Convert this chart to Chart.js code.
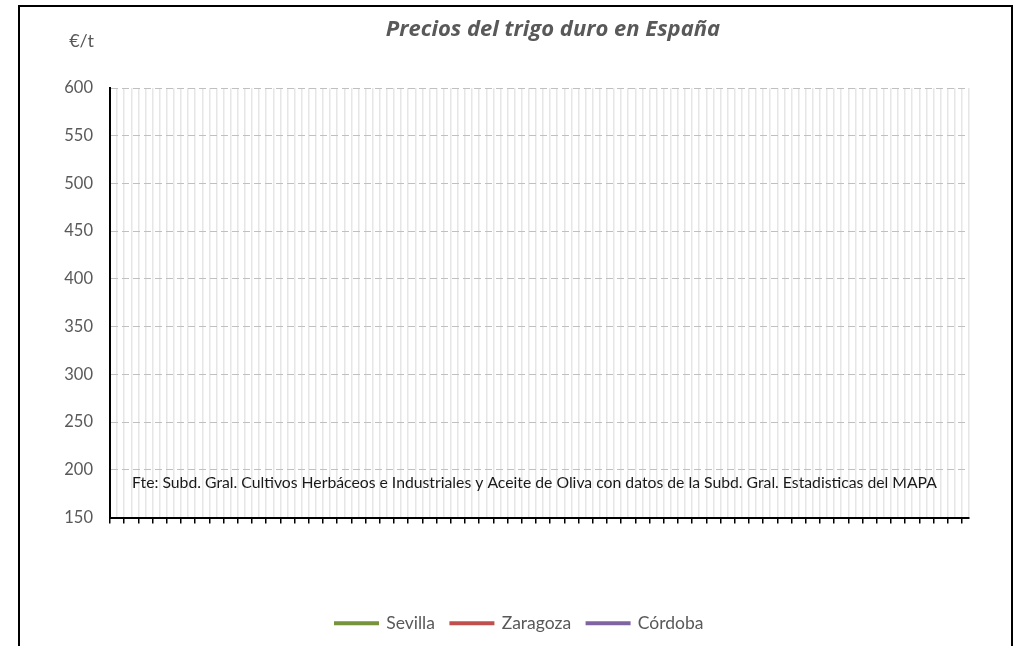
<!DOCTYPE html>
<html>
<head>
<meta charset="utf-8">
<script src="https://cdn.jsdelivr.net/npm/chart.js@4"></script>
<style>
  body { margin: 0; background: #fff; }
  #wrap { width: 1016px; height: 646px; }
</style>
</head>
<body>
<div id="wrap"><canvas id="myChart" width="1016" height="646"></canvas></div>
<script>
// weekly categories (labels are not shown on the axis)
let weeks = Array(122).fill("");
// no prices are plotted in the picture
let sevilla = [];
let zaragoza = [];
let cordoba = [];
let yMin = 150;
let yMax = 600;
let yStep = 50;

let grey = "#595959";
let fontName = "Lato, 'Open Sans', sans-serif";

// frame, unit, title and source note
let extras = {
    id: "extras",
    afterLayout(chart) {
        // the legend sits centred under the plot area, not under the whole canvas
        if (chart.legend) {
            chart.legend.left += 25;
            chart.legend.right += 25;
        }
    },
    beforeDraw(chart) {
        let c = chart.ctx;
        c.save();
        c.fillStyle = "#fff";
        c.fillRect(0, 0, chart.width, chart.height);
        c.restore();
    },
    afterDraw(chart) {
        let c = chart.ctx;
        c.save();
        c.strokeStyle = "#000";
        c.lineWidth = 2;
        c.strokeRect(19, 6, 993, 700);

        c.fillStyle = grey;
        c.font = "18px " + fontName;
        c.textAlign = "right";
        c.textBaseline = "middle";
        c.fillText("€/t", 94, 41);

        c.font = "italic bold 22px 'Open Sans', sans-serif";
        c.textAlign = "center";
        c.fillText("Precios del trigo duro en España", 553, 30);

        c.fillStyle = "#1a1a1a";
        c.font = "15.75px " + fontName;
        c.textAlign = "left";
        c.fillText("Fte: Subd. Gral. Cultivos Herbáceos e Industriales y Aceite de Oliva con datos de la Subd. Gral. Estadisticas del MAPA", 132, 483);
        c.restore();
    }
};

new Chart("myChart", {
    type: "line",
    data: {
        labels: weeks,
        datasets: [
            { label: "Sevilla", data: sevilla, borderColor: "#77933C", backgroundColor: "#77933C", borderWidth: 3, pointRadius: 0 },
            { label: "Zaragoza", data: zaragoza, borderColor: "#C0504D", backgroundColor: "#C0504D", borderWidth: 3, pointRadius: 0 },
            { label: "Córdoba", data: cordoba, borderColor: "#8064A2", backgroundColor: "#8064A2", borderWidth: 3, pointRadius: 0 }
        ]
    },
    plugins: [extras],
    options: {
        responsive: false,
        animation: false,
        layout: { padding: { left: 20, right: 47, top: 88, bottom: 4 } },
        plugins: {
            title: { display: false },
            tooltip: { enabled: false },
            legend: {
                position: "bottom",
                labels: {
                    boxWidth: 42,
                    boxHeight: 1,
                    padding: 16,
                    color: grey,
                    font: { family: fontName, size: 17.5 }
                }
            }
        },
        scales: {
            x: {
                offset: false,
                ticks: { display: false },
                grid: {
                    color: "#e6e6e6",
                    lineWidth: 1.5,
                    drawTicks: true,
                    tickLength: 6,
                    tickWidth: 1.5,
                    tickColor: (ctx) => (ctx.index % 2 === 0 ? "#000" : "rgba(0,0,0,0)")
                },
                border: { color: "#000", width: 2 },
                afterFit: (scale) => { scale.height = 81; }
            },
            y: {
                min: yMin,
                max: yMax,
                ticks: {
                    stepSize: yStep,
                    color: grey,
                    padding: 17,
                    font: { family: fontName, size: 16.5 }
                },
                grid: { color: "#c0c0c0", lineWidth: 1, drawTicks: false },
                border: { color: "#000", width: 2, dash: [7, 4] },
                afterFit: (scale) => { scale.width = 90; }
            }
        }
    }
});
</script>
</body>
</html>
